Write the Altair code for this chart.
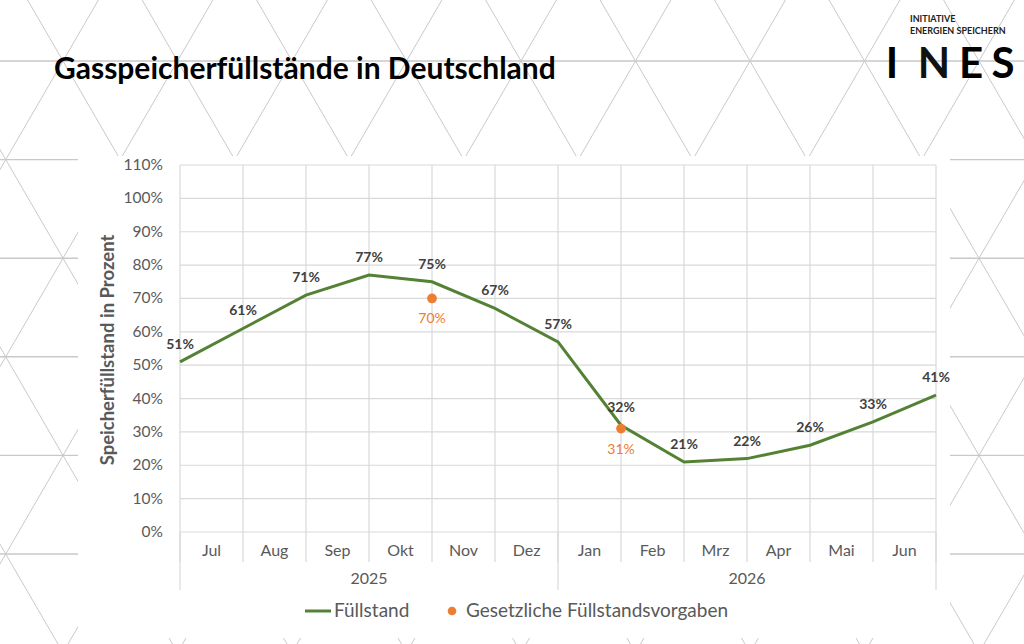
import altair as alt
import pandas as pd

# --- chart values -----------------------------------------------------------
months = ["Jul", "Aug", "Sep", "Okt", "Nov", "Dez", "Jan", "Feb", "Mrz", "Apr", "Mai", "Jun"]
years = ["2025", "2026"]
# storage level (%) at each month boundary, Jul 2025 .. Jul 2026
fill_pct = [51, 61, 71, 77, 75, 67, 57, 32, 21, 22, 26, 33, 41]
# statutory targets: boundary index and required level (%)
target_pos = [4, 7]
target_pct = [70, 31]
y_ticks = list(range(0, 111, 10))

FONT = "Lato"
GRID = "#d9d9d9"
TXT = "#595959"
GREEN = "#548235"
ORANGE = "#ED7D31"

W, H = 1024, 644
X = alt.Scale(domain=[0, 12], range=[180, 936])
Y = alt.Scale(domain=[0, 110], range=[532, 165])

# --- slide background: triangular lattice ----------------------------------
row0, row_step, half = 61.0, 98.6, 57.25
slope = half / row_step
bg_rows = []
for k in range(-1, 7):
    yy = row0 + k * row_step
    bg_rows.append(dict(x=-10, y=yy, x2=W + 10, y2=yy, w=1.4))
for n in range(-8, 18):
    c = 63 + 2 * half * n
    ya, yb = -20.0, H + 20.0
    bg_rows.append(dict(x=c + slope * (ya - row0), y=ya, x2=c + slope * (yb - row0), y2=yb, w=1.0))
    bg_rows.append(dict(x=c - slope * (ya - row0), y=ya, x2=c - slope * (yb - row0), y2=yb, w=1.0))
bg = pd.DataFrame(bg_rows)

lattice = alt.Chart(bg).mark_rule(color="#c9c9c9").encode(
    x=alt.X("x:Q", scale=None, axis=None),
    y=alt.Y("y:Q", scale=None, axis=None),
    x2="x2:Q",
    y2="y2:Q",
    strokeWidth=alt.StrokeWidth("w:Q", scale=None, legend=None),
)

panel = alt.Chart(pd.DataFrame({"k": [0]})).mark_rect(color="white").encode(
    x=alt.value(78), x2=alt.value(950), y=alt.value(156), y2=alt.value(638)
)

# --- grid and axes -----------------------------------------------------------
ydf = pd.DataFrame({"v": y_ticks, "lab": [f"{v}%" for v in y_ticks]})
bounds = pd.DataFrame({"b": list(range(13))})
year_bounds = pd.DataFrame({"b": [0, 6, 12]})
mdf = pd.DataFrame({"m": months, "c": [i + 0.5 for i in range(12)]})
ydf_years = pd.DataFrame({"yr": years, "c": [3, 9]})

hgrid = alt.Chart(ydf).mark_rule(color=GRID, strokeWidth=1.2).encode(
    y=alt.Y("v:Q", scale=Y, axis=None), x=alt.value(180), x2=alt.value(936)
)
vgrid = alt.Chart(bounds).mark_rule(color=GRID, strokeWidth=1.2).encode(
    x=alt.X("b:Q", scale=X, axis=None), y=alt.value(165), y2=alt.value(562)
)
ygrid = alt.Chart(year_bounds).mark_rule(color=GRID, strokeWidth=1.2).encode(
    x=alt.X("b:Q", scale=X, axis=None), y=alt.value(532), y2=alt.value(590)
)
ylabels = alt.Chart(ydf).mark_text(
    align="right", baseline="middle", font=FONT, fontSize=15.5, color=TXT
).encode(y=alt.Y("v:Q", scale=Y, axis=None), x=alt.value(163), text="lab:N")

mlabels = alt.Chart(mdf).mark_text(
    align="center", baseline="middle", font=FONT, fontSize=16, color=TXT
).encode(x=alt.X("c:Q", scale=X, axis=None), y=alt.value(551), text="m:N")

yrlabels = alt.Chart(ydf_years).mark_text(
    align="center", baseline="middle", font=FONT, fontSize=16, color=TXT
).encode(x=alt.X("c:Q", scale=X, axis=None), y=alt.value(579), text="yr:N")

ytitle = alt.Chart(pd.DataFrame({"t": ["Speicherfüllstand in Prozent"]})).mark_text(
    angle=270, align="center", baseline="middle", font=FONT, fontSize=18.5,
    fontWeight="bold", color=TXT
).encode(x=alt.value(108), y=alt.value(350), text="t:N")

# --- series ------------------------------------------------------------------
fdf = pd.DataFrame({"b": list(range(13)), "v": fill_pct, "lab": [f"{v}%" for v in fill_pct]})
tdf = pd.DataFrame({"b": target_pos, "v": target_pct, "lab": [f"{v}%" for v in target_pct]})

line = alt.Chart(fdf).mark_line(color=GREEN, strokeWidth=3).encode(
    x=alt.X("b:Q", scale=X, axis=None), y=alt.Y("v:Q", scale=Y, axis=None)
)
line_lab = alt.Chart(fdf).mark_text(
    dy=-17, font=FONT, fontSize=14, fontWeight="bold", color="#404040"
).encode(x=alt.X("b:Q", scale=X, axis=None), y=alt.Y("v:Q", scale=Y, axis=None), text="lab:N")

dots = alt.Chart(tdf).mark_circle(color=ORANGE, size=95, opacity=1).encode(
    x=alt.X("b:Q", scale=X, axis=None), y=alt.Y("v:Q", scale=Y, axis=None)
)
dot_lab = alt.Chart(tdf).mark_text(
    dy=21, font=FONT, fontSize=14, color=ORANGE
).encode(x=alt.X("b:Q", scale=X, axis=None), y=alt.Y("v:Q", scale=Y, axis=None), text="lab:N")

# --- legend --------------------------------------------------------------------
one = pd.DataFrame({"k": [0]})
leg_line = alt.Chart(one).mark_rule(color=GREEN, strokeWidth=3).encode(
    x=alt.value(305), x2=alt.value(331), y=alt.value(611)
)
leg_line_txt = alt.Chart(pd.DataFrame({"t": ["Füllstand"]})).mark_text(
    align="left", baseline="middle", font=FONT, fontSize=19, color=TXT
).encode(x=alt.value(334), y=alt.value(611), text="t:N")
leg_dot = alt.Chart(one).mark_circle(color=ORANGE, size=75, opacity=1).encode(
    x=alt.value(452), y=alt.value(611)
)
leg_dot_txt = alt.Chart(pd.DataFrame({"t": ["Gesetzliche Füllstandsvorgaben"]})).mark_text(
    align="left", baseline="middle", font=FONT, fontSize=19, color=TXT
).encode(x=alt.value(466), y=alt.value(611), text="t:N")

# --- heading and logo ------------------------------------------------------------
title = alt.Chart(pd.DataFrame({"t": ["Gasspeicherfüllstände in Deutschland"]})).mark_text(
    align="left", baseline="alphabetic", font=FONT, fontSize=30, fontWeight="bold", color="black"
).encode(x=alt.value(54), y=alt.value(79), text="t:N")

logo_small1 = alt.Chart(pd.DataFrame({"t": ["INITIATIVE"]})).mark_text(
    align="left", baseline="alphabetic", font=FONT, fontSize=9, fontWeight="bold", color="#222222"
).encode(x=alt.value(910), y=alt.value(22), text="t:N")
logo_small2 = alt.Chart(pd.DataFrame({"t": ["ENERGIEN SPEICHERN"]})).mark_text(
    align="left", baseline="alphabetic", font=FONT, fontSize=9, fontWeight="bold", color="#222222"
).encode(x=alt.value(910), y=alt.value(34), text="t:N")

logo_letters = []
for ch, cx, col in [("I", 892, "black"), ("N", 934, "#111111"), ("E", 971, "black"), ("S", 1003, "black")]:
    logo_letters.append(
        alt.Chart(pd.DataFrame({"t": [ch]})).mark_text(
            align="center", baseline="alphabetic", font=FONT, fontSize=42,
            fontWeight="bold", color=col
        ).encode(x=alt.value(cx), y=alt.value(78), text="t:N")
    )

chart = alt.layer(
    lattice, panel,
    hgrid, vgrid, ygrid, ylabels, mlabels, yrlabels, ytitle,
    line, line_lab, dots, dot_lab,
    leg_line, leg_line_txt, leg_dot, leg_dot_txt,
    title, logo_small1, logo_small2, *logo_letters,
).properties(
    width=W, height=H, padding=0,
    autosize=alt.AutoSizeParams(type="none"),
    background="white",
).configure_view(stroke=None)

chart.save("out.html", embed_options={"renderer": "svg", "actions": False})
